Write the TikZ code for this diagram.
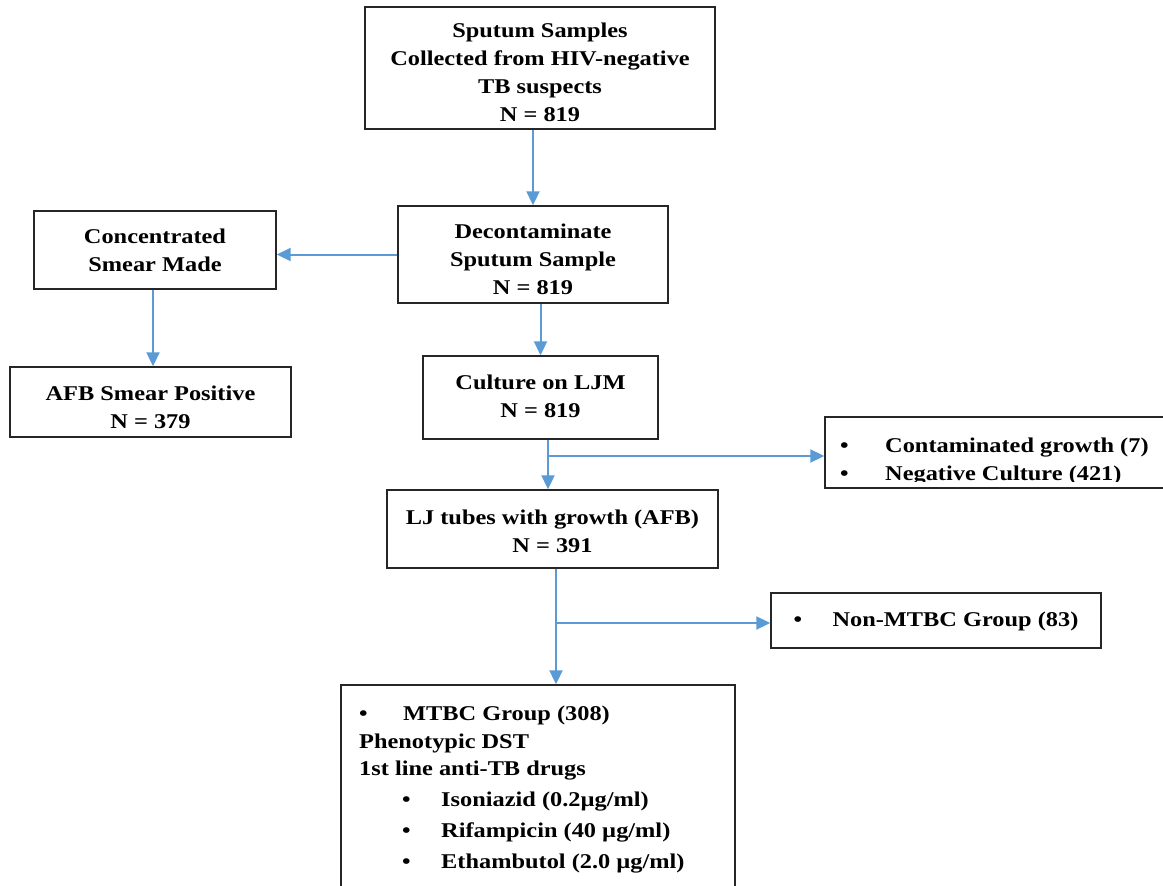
\documentclass[tikz,border=0pt]{standalone}
\usepackage{fontspec}
\setmainfont{Liberation Serif}[FakeStretch=1.16]
\usetikzlibrary{arrows.meta}
\definecolor{arrowblue}{HTML}{5B9BD5}
\definecolor{boxline}{HTML}{262626}
\tikzset{
  x=1pt, y=-1pt,
  box/.style={draw=boxline, line width=1.4pt, inner sep=0pt},
  boxtext/.style={align=center, inner sep=0pt, text=black,
    font=\bfseries\fontsize{21}{28}\selectfont},
  txt/.style={align=left, inner sep=0pt, anchor=north west,
    font=\bfseries\fontsize{21}{28}\selectfont},
  arr/.style={draw=arrowblue, line width=2pt, -{Triangle[length=14pt,width=13pt]}}
}
\newcommand{\bul}[1]{\makebox[#1][l]{\textbullet}}
\begin{document}
\begin{tikzpicture}
\clip (0,0) rectangle (1163,886);
\fill[white] (0,0) rectangle (1163,886);

\node[box, minimum width=350, minimum height=122,
  label={[boxtext,yshift=-4.5pt]center:{Sputum Samples\\Collected from HIV-negative\\TB suspects\\N = 819}}]
  (sputum) at (540,68) {};
\node[box, minimum width=270, minimum height=97,
  label={[boxtext,yshift=-5pt]center:{Decontaminate\\Sputum Sample\\N = 819}}]
  (decon) at (533,254.5) {};
\node[box, minimum width=242, minimum height=78,
  label={[boxtext]center:{Concentrated\\Smear Made}}]
  (conc) at (155,250) {};
\node[box, minimum width=281, minimum height=70,
  label={[boxtext,yshift=-5pt]center:{AFB Smear Positive\\N = 379}}]
  (afb) at (150.5,402) {};
\node[box, minimum width=235, minimum height=83,
  label={[boxtext,yshift=1pt]center:{Culture on LJM\\N = 819}}]
  (culture) at (540.5,397.5) {};
\node[box, minimum width=340, minimum height=71] (contam) at (995,452.5) {};
\begin{scope}
  \clip ([xshift=1pt,yshift=-1pt]contam.north west) rectangle ([xshift=-1pt,yshift=7pt]contam.south east);
  \node[txt] (contamtext) at (840,438)
    {\bul{45pt}Contaminated growth (7)\\\bul{45pt}Negative Culture (421)};
\end{scope}
\node[box, minimum width=331, minimum height=78,
  label={[boxtext,yshift=-2.5pt]center:{LJ tubes with growth (AFB)\\N = 391}}]
  (lj) at (552.5,529) {};
\node[box, minimum width=330, minimum height=55,
  label={[boxtext,yshift=-1pt]center:{\bul{39pt}Non-MTBC Group (83)}}]
  (nonmtbc) at (936,620.5) {};
\node[box, minimum width=394, minimum height=215] (mtbc) at (538,792.5) {};
\node[txt] (mtbctext) at (359,706)
  {\bul{44pt}MTBC Group (308)\\[-0.5pt]
   Phenotypic DST\\[-0.5pt]
   1st line anti-TB drugs\\[3pt]
   \hspace*{43pt}\bul{39pt}Isoniazid (0.2µg/ml)\\[3pt]
   \hspace*{43pt}\bul{39pt}Rifampicin (40 µg/ml)\\[3pt]
   \hspace*{43pt}\bul{39pt}Ethambutol (2.0 µg/ml)};

% connectors
\draw[arr] (sputum.south -| decon.north) -- (decon.north);
\draw[arr] (decon.west) -- (conc.east |- decon.west);
\draw[arr] ([xshift=-2pt]conc.south) -- ([xshift=-2pt]conc.south |- afb.north);
\draw[arr] (culture.north |- decon.south) -- (culture.north);
\coordinate (c1) at ([xshift=7.5pt]culture.south);
\coordinate (b1) at (548,456);
\draw[arr] (c1) -- (c1 |- lj.north);
\draw[arr] (b1) -- (b1 -| contam.west);
\coordinate (c2) at ([xshift=3.5pt]lj.south);
\coordinate (b2) at (556,623);
\draw[arr] (c2) -- (c2 |- mtbc.north);
\draw[arr] (b2) -- (b2 -| nonmtbc.west);
\end{tikzpicture}
\end{document}
